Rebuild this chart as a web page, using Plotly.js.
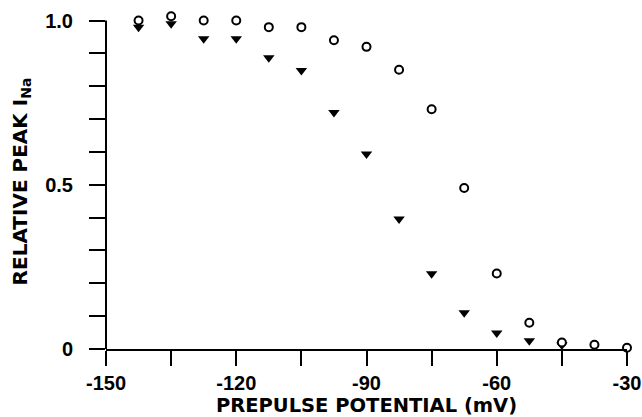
<!DOCTYPE html>
<html><head><meta charset="utf-8">
<script src="https://cdn.plot.ly/plotly-3.0.1.min.js"></script>
<style>html,body{margin:0;padding:0;background:#fff}#chart{width:642px;height:417px}</style>
</head><body><div id="chart"></div>
<script>
const prepulse = [-142.5,-135,-127.5,-120,-112.5,-105,-97.5,-90,-82.5,-75,-67.5,-60,-52.5,-45,-37.5,-30];
const openCircles = [1.00,1.013,1.00,1.00,0.98,0.98,0.94,0.92,0.85,0.73,0.49,0.23,0.08,0.02,0.013,0.004];
const prepulseTri = [-142.5,-135,-127.5,-120,-112.5,-105,-97.5,-90,-82.5,-75,-67.5,-60,-52.5,-45];
const filledTriangles = [0.98,0.99,0.945,0.945,0.887,0.848,0.72,0.594,0.396,0.229,0.11,0.049,0.025,0.012];
const xTickVals = [-150,-120,-90,-60,-30];
const xTickText = ['-150','-120','-90','-60','-30'];
const yTickVals = [0,0.5,1.0];
const yTickText = ['0','0.5','1.0'];

const font = 'Liberation Sans, Arial, sans-serif';
const titleFont = 'DejaVu Sans, Liberation Sans, sans-serif';
const yTop = 1.02;
const data = [
  {x: prepulseTri, y: filledTriangles, type:'scatter', mode:'markers', cliponaxis:false,
   marker:{symbol:'triangle-down', size:10, color:'#000'}},
  {x: prepulse, y: openCircles, type:'scatter', mode:'markers', cliponaxis:false,
   marker:{symbol:'circle', size:8, color:'#fff', line:{width:2, color:'#000'}}}
];
const layout = {
  width:642, height:417, showlegend:false,
  paper_bgcolor:'#fff', plot_bgcolor:'#fff',
  margin:{l:106, r:15, t:14.4, b:68},
  font:{family:font, color:'#000'},
  xaxis:{range:[-150,-30], tickvals:xTickVals, ticktext:xTickText.map(t=>'<b>'+t+'</b>'),
    showgrid:false, zeroline:false,
    showline:true, linewidth:2, linecolor:'#000', ticks:'outside', ticklen:15, tickwidth:2, tickcolor:'#000',
    minor:{dtick:15, tick0:-150, ticks:'outside', ticklen:15, tickwidth:2, tickcolor:'#000', showgrid:false},
    tickfont:{size:20, family:font},
    title:{text:'<b>PREPULSE POTENTIAL (mV)</b>', font:{size:19.5, family:titleFont}, standoff:8}},
  yaxis:{range:[0,yTop], tickvals:yTickVals, ticktext:yTickText.map(t=>'<b>'+t+'</b>'),
    showgrid:false, zeroline:false, showline:false,
    ticks:'outside', ticklen:16, tickwidth:2, tickcolor:'#000',
    minor:{dtick:0.1, tick0:0, ticks:'outside', ticklen:16, tickwidth:2, tickcolor:'#000', showgrid:false},
    ticklabelstandoff:12,
    tickfont:{size:20, family:font},
    title:{text:'<b>RELATIVE PEAK I<sub>Na</sub></b>', font:{size:20, family:titleFont}, standoff:12}},
  shapes:[{type:'line', xref:'x domain', yref:'y', x0:0, x1:0, y0:0, y1:1.0, line:{color:'#000', width:2}}]
};
Plotly.newPlot('chart', data, layout, {displayModeBar:false, staticPlot:true});
</script></body></html>
